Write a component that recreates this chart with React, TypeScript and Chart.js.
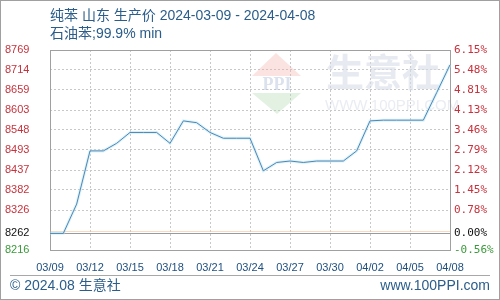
import React, { useEffect, useRef } from "react";
import { Chart, registerables } from "chart.js";

Chart.register(...registerables);

const dates = [
  "03/09", "03/10", "03/11", "03/12", "03/13", "03/14", "03/15", "03/16", "03/17", "03/18",
  "03/19", "03/20", "03/21", "03/22", "03/23", "03/24", "03/25", "03/26", "03/27", "03/28",
  "03/29", "03/30", "03/31", "04/01", "04/02", "04/03", "04/04", "04/05", "04/06", "04/07", "04/08",
];
const prices = [
  8262, 8262, 8343, 8490, 8490, 8511, 8541, 8541, 8541, 8511,
  8573, 8568, 8541, 8525, 8525, 8525, 8435, 8458, 8462, 8458,
  8462, 8462, 8462, 8490, 8573, 8575, 8575, 8575, 8575, 8651, 8728,
];
const leftTickValues = [8769, 8714, 8659, 8603, 8548, 8493, 8437, 8382, 8326, 8262, 8216];
const leftTickLabels = ["8769", "8714", "8659", "8603", "8548", "8493", "8437", "8382", "8326", "8262", "8216"];
const rightTickLabels = ["6.15%", "5.48%", "4.81%", "4.13%", "3.46%", "2.79%", "2.12%", "1.45%", "0.78%", "0.00%", "-0.56%"];
const baseValue = 8262;
const yMin = 8216;
const yMax = 8769;
const titleLine1 = "纯苯 山东 生产价 2024-03-09 - 2024-04-08";
const titleLine2 = "石油苯;99.9% min";
const footerLeft = "© 2024.08 生意社";
const footerRight = "www.100PPI.com";

const FONT = "'Liberation Sans', Arial, 'Noto Sans CJK SC', sans-serif";
const TEXT_BLUE = "#2a5d8a";

function tickColor(v: number) {
  if (v === baseValue) return "#111111";
  if (v === yMin) return "#3a9a3a";
  return "#c8323c";
}

const decorPlugin = {
  id: "decor",
  beforeDraw(chart: any) {
    const { ctx, width, height } = chart;
    ctx.save();
    ctx.fillStyle = "#ffffff";
    ctx.fillRect(0, 0, width, height);
    ctx.fillStyle = TEXT_BLUE;
    ctx.font = `14px ${FONT}`;
    ctx.textBaseline = "middle";
    ctx.textAlign = "left";
    ctx.fillText(titleLine1, 50, 16);
    ctx.fillText(titleLine2, 50, 34);
    ctx.font = `14px ${FONT}`;
    ctx.fillText(footerLeft, 10, 286);
    ctx.textAlign = "right";
    ctx.fillText(footerRight, 490, 286);
    ctx.strokeStyle = "#a8a8a8";
    ctx.lineWidth = 1;
    ctx.beginPath();
    ctx.moveTo(10, 275.5);
    ctx.lineTo(490, 275.5);
    ctx.stroke();
    ctx.strokeStyle = "#a0a0a0";
    ctx.strokeRect(0.5, 0.5, width - 1, height - 1);
    ctx.restore();
  },
  beforeDatasetsDraw(chart: any) {
    const { ctx, chartArea } = chart;
    const y = chart.scales.y;
    ctx.save();
    ctx.fillStyle = "rgba(240,175,165,0.35)";
    ctx.beginPath();
    ctx.moveTo(276, 53);
    ctx.lineTo(301, 76);
    ctx.lineTo(252, 76);
    ctx.closePath();
    ctx.fill();
    ctx.fillStyle = "rgba(175,215,175,0.35)";
    ctx.beginPath();
    ctx.moveTo(252, 93);
    ctx.lineTo(301, 93);
    ctx.lineTo(277, 114);
    ctx.closePath();
    ctx.fill();
    ctx.fillStyle = "rgba(175,190,215,0.45)";
    ctx.font = `bold 18px 'Liberation Serif', serif`;
    ctx.textAlign = "center";
    ctx.textBaseline = "middle";
    ctx.fillText("PPI", 277, 85);
    ctx.fillStyle = "rgba(215,220,230,0.6)";
    ctx.font = `bold 38px 'Noto Sans CJK SC', sans-serif`;
    ctx.textAlign = "left";
    ctx.fillText("生意社", 326, 72);
    ctx.font = `15px ${FONT}`;
    ctx.fillStyle = "rgba(215,220,230,0.55)";
    ctx.fillText("WWW.100PPI.COM", 325, 106);
    const by = Math.round(y.getPixelForValue(baseValue)) + 0.5;
    ctx.strokeStyle = "rgba(245,195,150,0.6)";
    ctx.beginPath();
    ctx.moveTo(chartArea.left, by - 2);
    ctx.lineTo(chartArea.right, by - 2);
    ctx.stroke();
    ctx.strokeStyle = "#9a9a9a";
    ctx.lineWidth = 1;
    ctx.beginPath();
    ctx.moveTo(chartArea.left, by);
    ctx.lineTo(chartArea.right, by);
    ctx.stroke();
    ctx.strokeStyle = "#a0a0a0";
    ctx.strokeRect(chartArea.left + 0.5, chartArea.top + 0.5, chartArea.right - chartArea.left, chartArea.bottom - chartArea.top);
    ctx.restore();
  },
};

export default function App() {
  const ref = useRef<HTMLCanvasElement>(null);
  useEffect(() => {
    if (!ref.current) return;
    const setTicks = (scale: any) => {
      scale.ticks = leftTickValues.map((v) => ({ value: v }));
    };
    const chart = new Chart(ref.current, {
      type: "line",
      data: {
        labels: dates,
        datasets: [
          {
            data: prices,
            borderColor: "rgba(185,232,250,0.5)",
            borderWidth: 3,
            pointRadius: 0,
            tension: 0,
            order: 2,
          },
          {
            data: prices,
            borderColor: "#4f86b0",
            borderWidth: 1,
            pointRadius: 0,
            tension: 0,
            order: 1,
          },
        ],
      },
      options: {
        animation: false,
        responsive: false,
        devicePixelRatio: 1,
        layout: { padding: { top: 50, left: 5, right: 0, bottom: 0 } },
        plugins: { legend: { display: false }, tooltip: { enabled: false } },
        scales: {
          x: {
            type: "category",
            offset: false,
            grid: {
              drawTicks: false,
              color: (c: any) => (c.index % 3 === 0 ? "#c8c8c8" : "transparent"),
            },
            border: { display: false, dash: [2, 2] },
            ticks: {
              autoSkip: false,
              maxRotation: 0,
              padding: 11,
              color: "#1d4f80",
              font: { size: 11, family: FONT },
              callback: (_v: any, i: number) => (i % 3 === 0 ? dates[i] : ""),
            },
            afterFit: (s: any) => {
              s.height = 50;
            },
          },
          y: {
            type: "linear",
            position: "left",
            min: yMin,
            max: yMax,
            afterBuildTicks: setTicks,
            grid: {
              drawTicks: false,
              color: (c: any) =>
                c.tick && (c.tick.value === baseValue || c.tick.value === yMin || c.tick.value === yMax)
                  ? "transparent"
                  : "#c8c8c8",
            },
            border: { display: false, dash: [2, 2] },
            ticks: {
              crossAlign: "far",
              padding: 0,
              font: { size: 11, family: FONT },
              color: (c: any) => tickColor(c.tick.value),
              callback: (v: any) => {
                const i = leftTickValues.indexOf(v);
                return i >= 0 ? leftTickLabels[i] : "";
              },
            },
            afterFit: (s: any) => {
              s.width = 45;
            },
          },
          y2: {
            type: "linear",
            position: "right",
            min: yMin,
            max: yMax,
            afterBuildTicks: setTicks,
            grid: { drawOnChartArea: false, drawTicks: false },
            border: { display: false },
            ticks: {
              padding: 4,
              font: { size: 11, family: "'DejaVu Sans Mono', monospace" },
              color: (c: any) => tickColor(c.tick.value),
              callback: (v: any) => {
                const i = leftTickValues.indexOf(v);
                return i >= 0 ? rightTickLabels[i] : "";
              },
            },
            afterFit: (s: any) => {
              s.width = 50;
            },
          },
        },
      } as any,
      plugins: [decorPlugin],
    });
    return () => chart.destroy();
  }, []);
  return (
    <div style={{ position: "absolute", left: 0, top: 0, width: 500, height: 300 }}>
      <canvas ref={ref} width={500} height={300} style={{ display: "block" }} />
    </div>
  );
}
